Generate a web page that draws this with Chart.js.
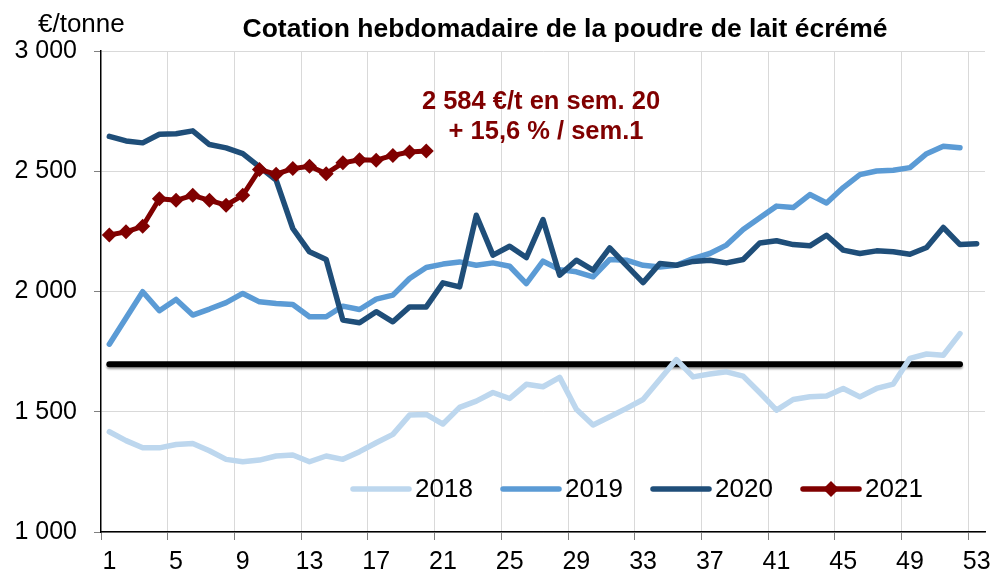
<!DOCTYPE html>
<html lang="fr">
<head>
<meta charset="utf-8">
<title>Cotation hebdomadaire de la poudre de lait écrémé</title>
<script src="https://cdn.jsdelivr.net/npm/chart.js@4.4.1/dist/chart.umd.min.js"></script>
<style>
  html, body { margin: 0; padding: 0; background: #fff; }
  #wrap { width: 993px; height: 573px; }
</style>
</head>
<body>
<div id="wrap"><canvas id="chart" width="993" height="573"></canvas></div>
<script>
// ─── Data (€/tonne, weekly quotation) ───
const WEEKS = ['1','2','3','4','5','6','7','8','9','10','11','12','13','14','15','16','17','18','19','20',
  '21','22','23','24','25','26','27','28','29','30','31','32','33','34','35','36','37','38','39','40',
  '41','42','43','44','45','46','47','48','49','50','51','52','53'];

const Y2018 = [1417,1380,1350,1350,1364,1368,1338,1302,1292,1299,
  1316,1320,1292,1316,1302,1334,1371,1406,1486,1489,
  1449,1518,1544,1580,1555,1614,1604,1643,1510,1445,
  1479,1514,1551,1634,1717,1645,1657,1666,1648,1579,
  1507,1551,1562,1565,1597,1562,1597,1615,1722,1740,
  1735,1825];

const Y2019 = [1781,1890,1999,1920,1967,1902,1927,1954,1992,1957,
  1950,1946,1895,1895,1939,1925,1968,1985,2054,2100,
  2114,2123,2109,2119,2105,2033,2126,2091,2082,2061,
  2133,2130,2109,2102,2109,2137,2158,2193,2258,2307,
  2355,2349,2403,2368,2432,2486,2501,2504,2515,2573,
  2604,2598];

const Y2020 = [2645,2626,2618,2654,2656,2668,2611,2597,2573,2518,
  2463,2262,2165,2133,1881,1870,1916,1874,1936,1936,
  2036,2019,2317,2151,2188,2141,2299,2068,2130,2089,
  2181,2109,2037,2116,2109,2125,2130,2119,2133,2202,
  2211,2195,2190,2234,2172,2158,2169,2165,2155,2183,
  2266,2195,2199];

const Y2021 = [2235,2248,2271,2386,2379,2400,2379,2359,2400,2507,
  2488,2511,2521,2490,2535,2548,2546,2566,2580,2584];

// intervention price line, weeks 1–52
const FLOOR = [1698,1698,1698,1698,1698,1698,1698,1698,1698,1698,
  1698,1698,1698,1698,1698,1698,1698,1698,1698,1698,
  1698,1698,1698,1698,1698,1698,1698,1698,1698,1698,
  1698,1698,1698,1698,1698,1698,1698,1698,1698,1698,
  1698,1698,1698,1698,1698,1698,1698,1698,1698,1698,
  1698,1698];

const TITLE = 'Cotation hebdomadaire de la poudre de lait écrémé';
const UNIT  = '€/tonne';
const NOTE  = ['2 584 €/t en sem. 20', '+ 15,6 % / sem.1'];

// ─── Styles ───
const FONT = '"Liberation Sans", Arial, Helvetica, sans-serif';
const RED  = '#800000';
const fmt  = v => String(v).replace(/\B(?=(\d{3})+(?!\d))/g, ' ');

// shadow under the black reference line
const shadowPlugin = {
  id: 'floorShadow',
  beforeDatasetDraw(chart, args) {
    if (args.meta.label !== 'floor') return;
    const c = chart.ctx;
    c.save();
    c.shadowColor = 'rgba(0,0,0,0.35)';
    c.shadowOffsetY = 2;
    c.shadowBlur = 2;
  },
  afterDatasetDraw(chart, args) {
    if (args.meta.label !== 'floor') return;
    chart.ctx.restore();
  }
};

// title, unit, annotation and the in-plot legend
const textPlugin = {
  id: 'texts',
  afterDraw(chart) {
    const c = chart.ctx;
    c.save();
    c.fillStyle = '#000';
    c.textBaseline = 'alphabetic';
    c.textAlign = 'left';
    c.font = `26px ${FONT}`;
    c.fillText(UNIT, 38, 32);

    c.textAlign = 'center';
    c.font = `bold 26.5px ${FONT}`;
    c.fillText(TITLE, 565, 37);

    c.font = `bold 25.5px ${FONT}`;
    c.fillStyle = RED;
    c.fillText(NOTE[0], 541, 109);
    c.fillText(NOTE[1], 546, 139);

    // legend
    const items = chart.data.datasets.filter(d => d.label !== 'floor');
    c.font = `26px ${FONT}`;
    c.textAlign = 'left';
    c.textBaseline = 'middle';
    c.lineCap = 'round';
    items.forEach((d, i) => {
      const x0 = 353 + i * 150, y = 489;
      c.strokeStyle = d.borderColor;
      c.lineWidth = 5.5;
      c.beginPath();
      c.moveTo(x0, y);
      c.lineTo(x0 + 56, y);
      c.stroke();
      if (d.pointRadius > 0) {
        const cx = x0 + 28, r = 8;
        c.fillStyle = d.borderColor;
        c.beginPath();
        c.moveTo(cx, y - r); c.lineTo(cx + r, y); c.lineTo(cx, y + r); c.lineTo(cx - r, y);
        c.closePath();
        c.fill();
      }
      c.fillStyle = '#000';
      c.fillText(d.label, x0 + 62, y + 1);
    });
    c.restore();
  }
};

const lineDs = (label, data, color, width, order) => ({
  label, data, order,
  borderColor: color,
  backgroundColor: color,
  borderWidth: width,
  pointRadius: 0,
  fill: false,
});

const ds2021 = lineDs('2021', Y2021, RED, 5, 0);
ds2021.pointRadius = 7.5;
ds2021.pointStyle = 'rectRot';
ds2021.pointBorderWidth = 0;

new Chart(document.getElementById('chart'), {
  type: 'line',
  data: {
    labels: WEEKS,
    datasets: [
      lineDs('2018', Y2018, '#BDD7EE', 5.5, 3),
      lineDs('2019', Y2019, '#5B9BD5', 5.5, 2),
      lineDs('2020', Y2020, '#1F4E79', 5.5, 1),
      ds2021,
      lineDs('floor', FLOOR, '#000000', 6, 4),
    ],
  },
  options: {
    responsive: false,
    devicePixelRatio: 1,
    animation: false,
    layout: { padding: { top: 51, right: 8, left: 0, bottom: 0 } },
    plugins: {
      legend: { display: false },
      tooltip: { enabled: false },
    },
    elements: {
      line: { tension: 0, borderCapStyle: 'round', borderJoinStyle: 'round' },
    },
    scales: {
      x: {
        type: 'category',
        offset: true,
        grid: {
          offset: true,
          color: c => (c.index % 4 === 0 && c.index > 0 ? '#d9d9d9' : 'transparent'),
          tickColor: c => (c.index % 4 === 0 ? '#808080' : 'transparent'),
          tickLength: 8,
        },
        border: { color: '#000', width: 1.5 },
        ticks: {
          autoSkip: false,
          maxRotation: 0,
          padding: 2,
          color: '#000',
          // tall line height pushes the labels down without widening the side padding
          font: { family: FONT, size: 25, lineHeight: 1.64 },
          callback: (v, i) => (i % 4 === 0 ? WEEKS[i] : ''),
        },
        afterFit: s => { s.height = 41; },
      },
      y: {
        min: 1000,
        max: 3000,
        grid: { color: '#d9d9d9', tickColor: '#808080', tickLength: 7 },
        border: { color: '#000', width: 1.5 },
        ticks: {
          stepSize: 500,
          padding: 17,
          color: '#000',
          font: { family: FONT, size: 25 },
          callback: v => fmt(v),
        },
        afterFit: s => { s.width = 101; },
      },
    },
  },
  plugins: [shadowPlugin, textPlugin],
});
</script>
</body>
</html>
